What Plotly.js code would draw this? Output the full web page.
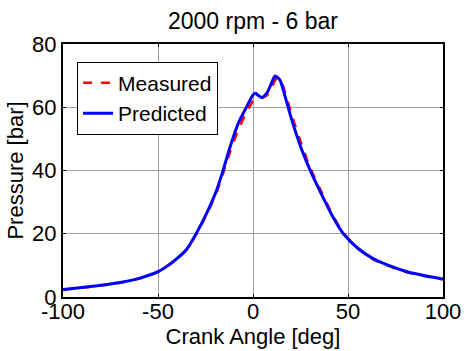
<!DOCTYPE html>
<html><head><meta charset="utf-8">
<script src="https://cdn.plot.ly/plotly-3.0.1.min.js"></script>
<style>html,body{margin:0;padding:0;background:#fff}#c{width:464px;height:351px}</style>
</head><body><div id="c"></div>
<script>
const predAngle = [-100,-90,-80,-70,-60,-50,-42,-35,-30,-24,-19,-15.5,-12,-7.7,-3.3,0,1.4,3,4.6,6,7.7,10,11.6,14.2,17,20.4,25.7,30,35,42,47.6,55,63,70,81,90,100];
const predicted = [2.4,3.0,3.7,4.6,5.9,8.0,11.2,15.0,19.9,27,34,40.5,47.6,55,60.2,63.9,64.4,63.6,63.1,63.6,64.9,68,69.9,68.6,63.2,56,46.5,40.2,33.8,25.4,20,15.5,12.2,10.3,8.0,6.8,5.7];
const measAngle = [-100,-90,-80,-70,-60,-50,-42,-35,-30,-24,-19,-15.5,-12,-7.7,-3.3,0,1.4,3,4.6,6,7.7,10,11.6,12.5,14.2,17,20.4,25.7,30,35,42,47.6,55,63,70,81,90,100];
const measured  = [2.3,2.9,3.6,4.5,5.8,7.9,11.1,14.9,19.7,26.5,33.3,39.5,46,53,58.5,62,62.8,63,63,63.3,64,66.5,68.5,69.2,69,64.5,57.5,48,41,34.5,25.8,20.2,15.5,12,10.1,7.8,6.6,5.5];
const chartTitle = '2000 rpm - 6 bar';
const traces = [
  {x: measAngle, y: measured, name: 'Measured', type: 'scatter', mode: 'lines',
   line: {color: '#ff0000', width: 2.5, dash: 'dash', shape: 'spline', smoothing: 0.6}},
  {x: predAngle, y: predicted, name: 'Predicted', type: 'scatter', mode: 'lines',
   line: {color: '#0000ff', width: 3, shape: 'spline', smoothing: 0.6}}
];
const FF = 'Arial, Liberation Sans, sans-serif';
const axisFont = {family: FF, size: 22, color: '#000'};
const layout = {
  width: 464, height: 351,
  margin: {l: 63, r: 21, t: 44, b: 54},
  paper_bgcolor: '#fff', plot_bgcolor: '#fff',
  font: axisFont,
  annotations: [{text: chartTitle, xref: 'paper', yref: 'paper', x: 0.5, y: 1.09, xanchor: 'center', yanchor: 'middle',
    showarrow: false, font: {family: FF, size: 23, color: '#000'}}],
  xaxis: {range: [-100, 100], tickvals: [-100,-50,0,50,100], ticktext: ['-100','-50','0','50','100'],
    showgrid: true, gridcolor: '#a0a0a0', gridwidth: 1, zeroline: false,
    showline: true, linecolor: '#000', linewidth: 2, mirror: 'ticks', ticks: 'inside', ticklen: 3, tickcolor: '#000',
    ticklabelstandoff: -6,
    tickfont: axisFont, title: {text: 'Crank Angle [deg]', font: axisFont, standoff: 0}},
  yaxis: {range: [0, 80], tickvals: [0,20,40,60,80],
    showgrid: true, gridcolor: '#a0a0a0', gridwidth: 1, zeroline: false,
    showline: true, linecolor: '#000', linewidth: 2, mirror: 'ticks', ticks: 'inside', ticklen: 3, tickcolor: '#000',
    tickfont: axisFont, title: {text: 'Pressure [bar]', font: axisFont, standoff: 2}},
  legend: {x: 0.037, y: 0.93, xanchor: 'left', yanchor: 'top', bgcolor: '#fff', bordercolor: '#000', borderwidth: 1,
    font: {family: FF, size: 21, color: '#000'}, tracegroupgap: 0, itemwidth: 30},
  showlegend: true
};
Plotly.newPlot('c', traces, layout, {displayModeBar: false, staticPlot: true});
</script>
</body></html>
